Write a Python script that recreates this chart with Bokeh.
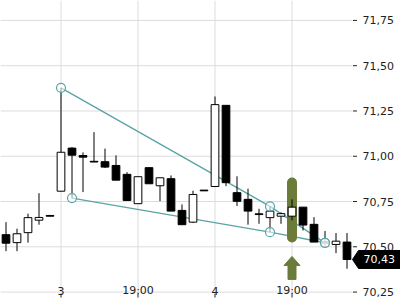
from bokeh.plotting import figure
from bokeh.models import Range1d
from bokeh.core.properties import value
from bokeh.embed import file_html
from bokeh.resources import INLINE

# ---- data -------------------------------------------------------------
idx = list(range(32))
opens = [70.567, 70.523, 70.578, 70.647, 70.673, 70.807, 71.045, 71.004,
         70.972, 70.970, 70.949, 70.900, 70.738, 70.937, 70.837, 70.876,
         70.701, 70.636, 70.813, 70.833, 71.281, 70.799, 70.762, 70.682,
         70.661, 70.669, 70.669, 70.719, 70.624, 70.529, 70.513, 70.526]
highs = [70.636, 70.600, 70.683, 70.796, 70.673, 71.378, 71.050, 71.021,
         71.133, 71.042, 71.005, 70.912, 70.887, 70.937, 70.881, 70.894,
         70.734, 70.810, 70.813, 71.330, 71.281, 70.889, 70.821, 70.710,
         70.723, 70.690, 70.762, 70.719, 70.664, 70.587, 70.576, 70.576]
lows = [70.476, 70.476, 70.523, 70.622, 70.669, 70.805, 70.769, 70.802,
        70.968, 70.935, 70.868, 70.756, 70.738, 70.848, 70.752, 70.697,
        70.622, 70.631, 70.809, 70.833, 70.835, 70.725, 70.622, 70.627,
        70.581, 70.627, 70.646, 70.590, 70.526, 70.498, 70.465, 70.379]
closes = [70.520, 70.572, 70.661, 70.662, 70.669, 71.022, 71.006, 70.995,
          70.968, 70.940, 70.868, 70.756, 70.887, 70.848, 70.881, 70.697,
          70.622, 70.789, 70.809, 71.285, 70.854, 70.751, 70.697, 70.678,
          70.697, 70.683, 70.719, 70.620, 70.526, 70.520, 70.531, 70.430]

x_tick_pos = [5, 12, 19, 26]
x_tick_labels = ["3", "19:00", "4", "19:00"]
y_ticks = [70.25, 70.50, 70.75, 71.00, 71.25, 71.50, 71.75]
y_tick_labels = ["70,25", "70,50", "70,75", "71,00", "71,25", "71,50", "71,75"]

upper_idx = [5, 24, 29]
upper_val = [71.378, 70.723, 70.522]
lower_idx = [6, 24, 29]
lower_val = [70.769, 70.581, 70.522]

signal_idx = 26
signal_top = 70.855
signal_bottom = 70.552
arrow_tip = 70.447
arrow_base = 70.397
arrow_end = 70.320

# ---- styles / geometry ---------------------------------------------------
TEAL = "#5ba4a7"
OLIVE = "#6b7b3a"
GRID = "#dcdcdc"
TXT = "#222222"
FONT = "DejaVu Sans"
PX = 1 / 11.0                # one pixel in x data units
X0 = -0.5                    # left edge of plot
XR = 31.5                    # right edge of price area
XEND = X0 + 400 * PX         # right edge of canvas
YTOP = 71.860
PY = 1 / 181.1               # one pixel in y data units
YBOT = YTOP - 300 * PY
YB = y_ticks[0]              # bottom of price area

p = figure(width=400, height=300, output_backend="svg", toolbar_location=None,
           x_range=Range1d(X0, XEND), y_range=Range1d(YBOT, YTOP),
           x_axis_location=None, y_axis_location=None,
           min_border_left=0, min_border_right=0, min_border_top=0, min_border_bottom=0)
p.outline_line_color = None
p.background_fill_color = "white"
p.xgrid.grid_line_color = None
p.ygrid.grid_line_color = None

# grid lines
n = len(y_ticks)
m = len(x_tick_pos)
p.segment(x0=[X0] * n, y0=y_ticks, x1=[XR] * n, y1=y_ticks, line_color=GRID, line_width=1)
p.segment(x0=x_tick_pos, y0=[YTOP] * m, x1=x_tick_pos, y1=[YB] * m,
          line_color=GRID, line_width=1)

# time scale (ticks below, labels just above the bottom grid line)
p.segment(x0=x_tick_pos, y0=[YB - 1.5 * PY] * m, x1=x_tick_pos, y1=[YB - 5.5 * PY] * m,
          line_color=TXT, line_width=1)
p.text(x=x_tick_pos, y=[YB + 1.2 * PY] * m, text=x_tick_labels, text_font=value(FONT),
       text_font_size="11px", text_color=TXT, text_baseline="alphabetic", text_align="center")

# price scale (right side)
p.segment(x0=[XR + 0.5 * PX] * n, y0=y_ticks, x1=[XR + 4.5 * PX] * n, y1=y_ticks,
          line_color=TXT, line_width=1)
p.text(x=[XR + 10 * PX] * n, y=y_ticks, text=y_tick_labels, text_font=value(FONT),
       text_font_size="11px", text_color=TXT, text_baseline="middle", text_align="left")

# trend lines
p.line(upper_idx, upper_val, line_color=TEAL, line_width=1.4)
p.line(lower_idx, lower_val, line_color=TEAL, line_width=1.4)

# signal highlight
p.segment(x0=[signal_idx], y0=[signal_top], x1=[signal_idx], y1=[signal_bottom],
          line_color=OLIVE, line_width=10, line_cap="round")

# candles
up = [i for i in idx if closes[i] >= opens[i]]
dn = [i for i in idx if closes[i] < opens[i]]
p.segment(x0=idx, y0=lows, x1=idx, y1=highs, line_color="black", line_width=1)
p.vbar(x=up, top=[closes[i] for i in up], bottom=[opens[i] for i in up], width=0.7,
       fill_color="white", line_color="black", line_width=1)
p.vbar(x=dn, top=[opens[i] for i in dn], bottom=[closes[i] for i in dn], width=0.7,
       fill_color="black", line_color="black", line_width=1)

# trend points
p.scatter(upper_idx + lower_idx, upper_val + lower_val, marker="circle", size=9,
          fill_color="white", fill_alpha=0.6, line_color=TEAL, line_width=1.2)

# arrow under signal
hw, sw = 8 * PX, 4 * PX
s = signal_idx
p.patch([s - hw, s, s + hw, s + sw, s + sw, s - sw, s - sw],
        [arrow_base, arrow_tip, arrow_base, arrow_base, arrow_end, arrow_end, arrow_base],
        fill_color=OLIVE, line_color=OLIVE)

# last price flag
last = closes[-1]
h = 9 * PY
p.patch([XR, XR + 6 * PX, XEND, XEND, XR + 6 * PX],
        [last, last + h, last + h, last - h, last - h],
        fill_color="black", line_color="black")
p.text(x=[XR + 11 * PX], y=[last], text=[("%.2f" % last).replace(".", ",")],
       text_font=value(FONT), text_font_size="11px", text_color="white",
       text_baseline="middle", text_align="left")

open("out.html", "w").write(file_html(p, INLINE))
